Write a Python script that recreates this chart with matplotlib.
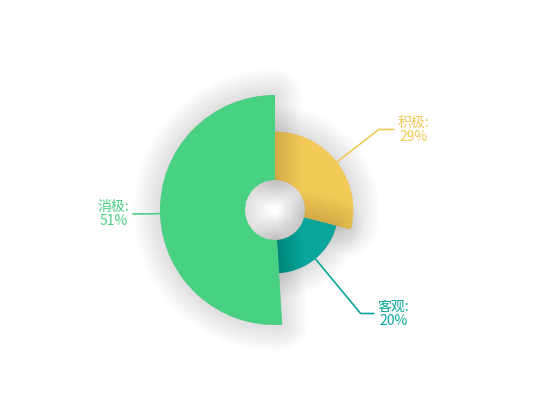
import numpy as np
import matplotlib
matplotlib.use("Agg")
import matplotlib.pyplot as plt
from matplotlib.patches import Wedge
import matplotlib.patheffects as pe

plt.rcParams['font.family'] = ['Noto Sans CJK SC', 'DejaVu Sans']

labels = ['积极', '客观', '消极']
values = [29, 20, 51]
colors = ['#f3c957', '#0aa69b', '#48d183']

# layout (pixels)
cx, cy = 275, 210
r0, r1 = 30, 115
len1 = [53, 71, 10]     # first leader segment
len2 = [15, 13, 17]     # horizontal leader segment

fig = plt.figure(figsize=(5.5, 4.2), dpi=100)
ax = fig.add_axes([0, 0, 1, 1])
ax.set_xlim(0, 550)
ax.set_ylim(0, 420)
ax.set_aspect('equal')
ax.axis('off')

total = float(sum(values))
vmax = max(values)
start = 0.0  # clockwise from 12 o'clock
shadow = [pe.Stroke(linewidth=lw, foreground='black', alpha=0.006, joinstyle='round')
          for lw in np.linspace(38, 2, 16)]

for i, v in enumerate(values):
    sweep = 360 * v / total
    end = start + sweep
    r = r0 + (r1 - r0) * v / vmax
    w = Wedge((cx, cy), r, 90 - end, 90 - start, width=r - r0,
              facecolor=colors[i], edgecolor='none', linewidth=0)
    w.set_path_effects(shadow + [pe.Normal()])
    ax.add_patch(w)

    mid = np.radians(start + sweep / 2)
    dx, dy = np.sin(mid), np.cos(mid)
    p0 = (cx + r * dx, cy + r * dy)
    p1 = (cx + (r + len1[i]) * dx, cy + (r + len1[i]) * dy)
    side = 1 if dx >= 0 else -1
    p2 = (p1[0] + side * len2[i], p1[1])
    ax.plot([p0[0], p1[0], p2[0]], [p0[1], p1[1], p2[1]], color=colors[i],
            lw=1.2, solid_capstyle='round', solid_joinstyle='round', zorder=3)
    pct = '%d%%' % round(100 * v / total)
    ax.text(p2[0] + side * 4, p2[1], labels[i] + ':\n' + pct, color=colors[i],
            fontsize=10, ha='left' if side > 0 else 'right', va='center',
            multialignment='center', linespacing=1.0, zorder=4)
    start = end

fig.savefig('out.png', dpi=100, facecolor='white')
